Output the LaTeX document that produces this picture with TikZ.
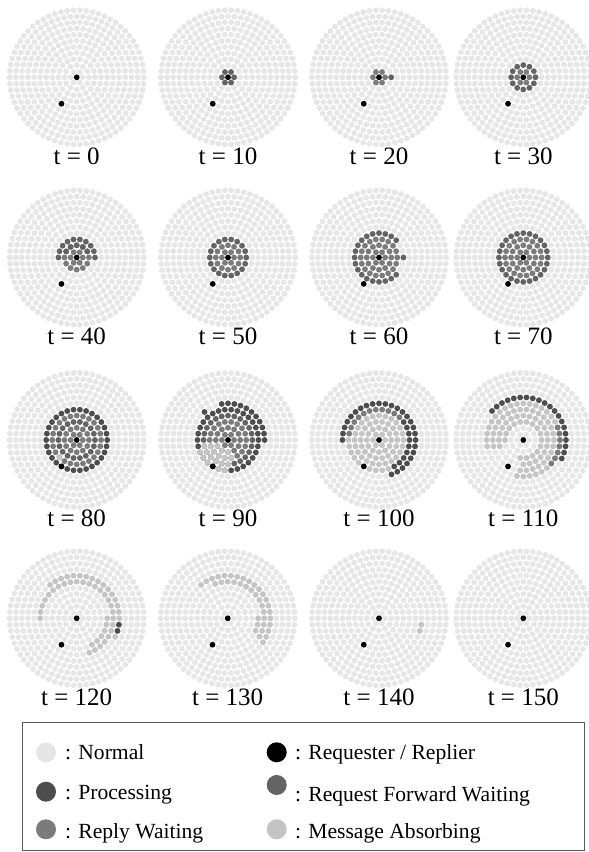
\documentclass[tikz,border=0pt]{standalone}
\usepackage{fontspec}
\setmainfont{Liberation Serif}
\definecolor{cNormal}{HTML}{E6E6E6}
\definecolor{cProc}{HTML}{4D4D4D}
\definecolor{cRFW}{HTML}{636363}
\definecolor{cRW}{HTML}{7B7B7B}
\definecolor{cAbs}{HTML}{C4C4C4}
\definecolor{cBox}{HTML}{5A5A5A}
\tikzset{
  nrm/.style={fill=cNormal},
  proc/.style={fill=cProc},
  rfw/.style={fill=cRFW},
  rw/.style={fill=cRW},
  absb/.style={fill=cAbs},
  req/.style={fill=black},
  lbl/.style={font=\fontsize{25}{30}\selectfont, anchor=base, inner sep=0pt},
  legtxt/.style={font=\fontsize{21.6}{26}\selectfont, anchor=base west, inner sep=0pt},
}
\def\ringd{6.1}
\def\dotr{2.9}
\newcommand\basedisk{%
  \foreach \k in {1,...,11}{%
    \pgfmathtruncatemacro\nn{6*\k}%
    \pgfmathtruncatemacro\nm{\nn-1}%
    \pgfmathsetmacro\stp{360/\nn}%
    \fill[nrm] \foreach \j in {0,...,\nm}{({\stp*\j}:{\k*\ringd}) circle[radius=\dotr]};%
  }}
\newcommand\arcd[4]{%
  \pgfmathtruncatemacro\nn{6*#1}%
  \pgfmathsetmacro\stp{360/\nn}%
  \pgfmathtruncatemacro\ja{ceil((#2)/\stp-0.001)}%
  \pgfmathtruncatemacro\jb{floor((#3)/\stp+0.001)}%
  \ifnum\ja>\jb\relax\else
    \fill[#4] \foreach \j in {\ja,...,\jb}{({\stp*\j}:{#1*\ringd}) circle[radius=\dotr]};%
  \fi}
\newcommand\reqs{\fill[req] (0,0) circle[radius=\dotr] (240:{5*\ringd}) circle[radius=\dotr];}
\newcommand\tdisk[5]{%
  \begin{scope}[shift={(#2,#3)}]\basedisk #5\reqs\end{scope}%
  \node[lbl] (#1) at (#2,#3-87) {t = #4};}
\begin{document}
\begin{tikzpicture}[x=1pt,y=1pt]
\useasboundingbox (0,0) rectangle (589,852);
% row 1
\tdisk{t0}{76.7}{774.7}{0}{}
\tdisk{t10}{228}{774.7}{10}{\arcd{1}{0}{359}{rfw}}
\tdisk{t20}{379}{774.7}{20}{\arcd{1}{0}{359}{rw}\arcd{2}{0}{0}{rfw}}
\tdisk{t30}{523.3}{774.7}{30}{\arcd{1}{0}{359}{rw}\arcd{2}{0}{359}{rfw}}
% row 2
\tdisk{t40}{76.7}{594.5}{40}{\arcd{1}{0}{359}{rw}\arcd{2}{0}{359}{rw}\arcd{2}{30}{150}{rfw}\arcd{3}{0}{180}{rfw}}
\tdisk{t50}{228}{594.5}{50}{\arcd{1}{0}{359}{rw}\arcd{2}{0}{359}{rw}\arcd{3}{0}{359}{rfw}}
\tdisk{t60}{379}{594.5}{60}{\arcd{1}{0}{359}{rw}\arcd{2}{0}{359}{rw}\arcd{3}{0}{359}{rw}\arcd{4}{0}{0}{rfw}\arcd{4}{45}{315}{rfw}}
\tdisk{t70}{523.3}{594.5}{70}{\arcd{1}{0}{359}{rw}\arcd{2}{0}{359}{rw}\arcd{3}{0}{359}{rw}\arcd{4}{0}{359}{rfw}}
% row 3
\tdisk{t80}{76.7}{412}{80}{\arcd{1}{0}{359}{rw}\arcd{2}{0}{359}{rw}\arcd{3}{0}{359}{rfw}\arcd{4}{0}{359}{rw}\arcd{4}{225}{225}{absb}\arcd{5}{0}{359}{proc}}
\tdisk{t90}{228}{412}{90}{\arcd{1}{0}{359}{rw}\arcd{2}{0}{359}{rw}\arcd{3}{0}{359}{rw}\arcd{4}{0}{359}{rfw}\arcd{5}{0}{359}{proc}\arcd{6}{0}{100}{proc}\arcd{6}{130}{130}{proc}\arcd{2}{190}{280}{absb}\arcd{3}{190}{280}{absb}\arcd{4}{190}{280}{absb}\arcd{5}{200}{270}{absb}}
\tdisk{t100}{379}{412}{100}{\arcd{1}{0}{359}{absb}\arcd{2}{0}{359}{absb}\arcd{3}{0}{359}{absb}\arcd{4}{0}{359}{absb}\arcd{5}{-60}{45}{proc}\arcd{5}{46}{170}{rw}\arcd{5}{171}{299}{absb}\arcd{6}{-70}{180}{proc}}
\tdisk{t110}{523.3}{412}{110}{\arcd{3}{-100}{198}{absb}\arcd{4}{-100}{198}{absb}\arcd{5}{-100}{198}{absb}\arcd{6}{-100}{198}{absb}\arcd{6}{-45}{25}{rw}\arcd{7}{-30}{140}{proc}}
% row 4
\tdisk{t120}{76.7}{233.7}{120}{\arcd{7}{-30}{130}{absb}\arcd{7}{-17.2}{-8}{proc}\arcd{6}{-70}{180}{absb}\arcd{5}{-60}{0}{absb}}
\tdisk{t130}{227.7}{233.7}{130}{\arcd{7}{-35}{130}{absb}\arcd{6}{-30}{110}{absb}\arcd{5}{-30}{10}{absb}}
\tdisk{t140}{379}{233.7}{140}{\arcd{7}{-17.2}{-8}{absb}}
\tdisk{t150}{523.3}{233.7}{150}{}
% legend
\draw[cBox, line width=0.9pt] (22.7,2) rectangle (584,129.3);
\fill[nrm] (46,99.7) circle[radius=10];
\node[legtxt] (lnormal) at (65,92.7) {: Normal};
\fill[proc] (46,60.3) circle[radius=10];
\node[legtxt] (lproc) at (65,52) {: Processing};
\fill[rw] (46,22.7) circle[radius=10];
\node[legtxt] (lrw) at (65,13.7) {: Reply Waiting};
\fill[req] (276.7,99.7) circle[radius=10];
\node[legtxt] (lreq) at (295,92.7) {: Requester / Replier};
\fill[rfw] (276.7,67) circle[radius=10];
\node[legtxt] (lrfw) at (295,50.3) {: Request Forward Waiting};
\fill[absb] (276.7,22.7) circle[radius=10];
\node[legtxt] (labs) at (295,13.7) {: Message Absorbing};
\end{tikzpicture}
\end{document}
